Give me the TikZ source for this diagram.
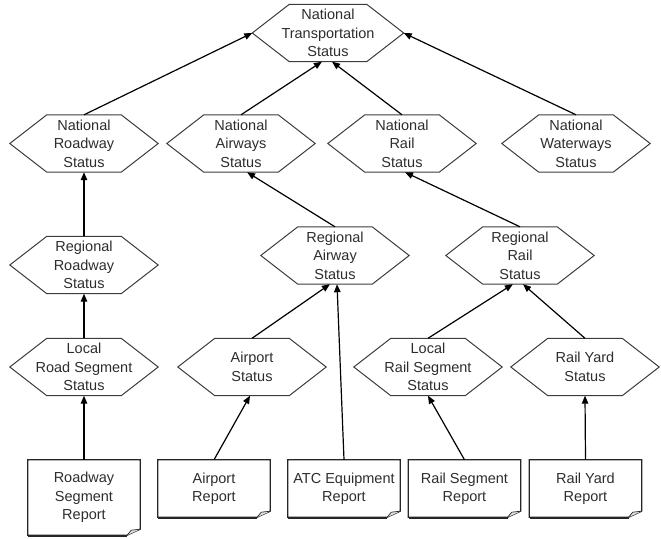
\documentclass[tikz,border=0pt]{standalone}
\usepackage{fontspec}
\setmainfont{Liberation Sans}
\usetikzlibrary{arrows.meta, calc}
\definecolor{shapeLine}{RGB}{60,60,60}
\definecolor{labelText}{RGB}{45,45,45}
\definecolor{foldFill}{RGB}{225,225,225}
\tikzset{
  statusNode/.style={
    minimum width=148pt,
    minimum height=57pt,
    inner sep=0pt,
    align=center,
    font=\fontsize{14.5}{18.5}\selectfont,
    text=labelText
  },
  reportNode/.style={statusNode, minimum width=112pt},
  statusFlow/.style={-{Triangle[length=8pt,width=6.5pt]}, line width=1.2pt},
  hexLine/.style={draw=shapeLine, line width=1pt},
  docLine/.style={draw=black!85, line width=1.2pt}
}

\begin{document}
\begin{tikzpicture}[x=1pt, y=1pt]
  \useasboundingbox (0,0) rectangle (661,-538);

  % status hexagons
  \node[statusNode, minimum width=151pt] (natTrans) at (328,-33) {National\\Transportation\\Status};
  \node[statusNode] (natRoad) at (84,-143.5) {National\\Roadway\\Status};
  \node[statusNode] (natAir) at (241,-143.5) {National\\Airways\\Status};
  \node[statusNode] (natRail) at (402,-143.5) {National\\Rail\\Status};
  \node[statusNode] (natWater) at (576,-143.5) {National\\Waterways\\Status};
  \node[statusNode] (regRoad) at (84,-265) {Regional\\Roadway\\Status};
  \node[statusNode] (regAir) at (335,-255.5) {Regional\\Airway\\Status};
  \node[statusNode] (regRail) at (520,-255.5) {Regional\\Rail\\Status};
  \node[statusNode] (locRoad) at (84,-367) {Local\\Road Segment\\Status};
  \node[statusNode] (airStat) at (252,-367) {Airport\\Status};
  \node[statusNode] (locRail) at (428,-367) {Local\\Rail Segment\\Status};
  \node[statusNode] (yardStat) at (585,-367) {Rail Yard\\Status};

  % reports
  \node[reportNode, minimum height=75pt] (roadRep) at (84,-497.5) {Roadway\\Segment\\Report};
  \node[reportNode] (airRep) at (214,-488.5) {Airport\\Report};
  \node[reportNode] (atcRep) at (344,-488.5) {ATC Equipment\\Report};
  \node[reportNode] (railRep) at (464.5,-488.5) {Rail Segment\\Report};
  \node[reportNode] (yardRep) at (585.5,-488.5) {Rail Yard\\Report};

  \foreach \n in {natTrans, natRoad, natAir, natRail, natWater, regRoad, regAir, regRail, locRoad, airStat, locRail, yardStat}
    \draw[hexLine] (\n.west) -- ($(\n.north west)+(37,0)$) -- ($(\n.north east)+(-37,0)$) -- (\n.east)
      -- ($(\n.south east)+(-37,0)$) -- ($(\n.south west)+(37,0)$) -- cycle;

  \foreach \r in {roadRep, airRep, atcRep, railRep, yardRep} {
    \draw[docLine] (\r.north west) -- (\r.north east) -- ($(\r.south east)+(0,6)$)
      -- ($(\r.south east)+(-13,0)$) -- (\r.south west) -- cycle;
    \draw[docLine, line width=0.7pt, fill=foldFill] ($(\r.south east)+(-13,0)$) -- ($(\r.south east)+(-9,5)$) -- ($(\r.south east)+(0,6)$);
    \draw[black!85, line width=2pt] ($(\r.south west)+(0.4,-0.4)$) -- ($(\r.south east)+(-13,-0.4)$);
  }

  % connectors
  \draw[statusFlow] (natRoad.north) -- (natTrans.west);
  \draw[statusFlow] (natAir.north) -- (natTrans.-102);
  \draw[statusFlow] (natRail.north) -- (natTrans.-82);
  \draw[statusFlow] (natWater.north) -- (natTrans.east);
  \draw[statusFlow] (regRoad.north) -- (natRoad.south);
  \draw[statusFlow] (regAir.north) -- (natAir.-78);
  \draw[statusFlow] (regRail.north) -- (natRail.-84);
  \draw[statusFlow] (locRoad.north) -- (regRoad.south);
  \draw[statusFlow] (airStat.north) -- (regAir.-100);
  \draw[statusFlow] (atcRep.north) -- (regAir.-86);
  \draw[statusFlow] (locRail.north) -- (regRail.-104);
  \draw[statusFlow] (yardStat.north) -- (regRail.-84);
  \draw[statusFlow] (roadRep.north) -- (locRoad.south);
  \draw[statusFlow] (airRep.north) -- (airStat.-94);
  \draw[statusFlow] (railRep.north) -- (locRail.south);
  \draw[statusFlow] (yardRep.north) -- (yardStat.south);
\end{tikzpicture}
\end{document}
